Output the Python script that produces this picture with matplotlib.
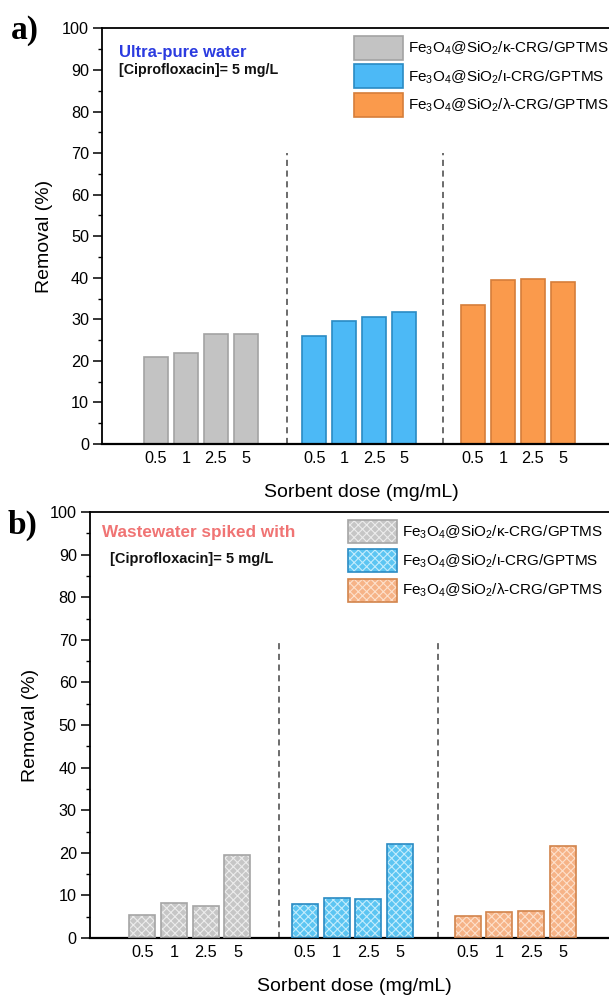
import matplotlib
matplotlib.use("Agg")
import matplotlib.pyplot as plt
from matplotlib.patches import Patch, Rectangle
from matplotlib.legend_handler import HandlerPatch
from matplotlib.ticker import MultipleLocator

plt.rcParams['font.family'] = ['Liberation Sans', 'DejaVu Sans']
plt.rcParams['mathtext.fontset'] = 'custom'
plt.rcParams['mathtext.rm'] = 'Liberation Sans'
plt.rcParams['mathtext.it'] = 'Liberation Sans'
plt.rcParams['hatch.linewidth'] = 0.8

# ---- data ----
doses = ["0.5", "1", "2.5", "5"]
materials = [r"Fe$_3$O$_4$@SiO$_2$/κ-CRG/GPTMS",
             r"Fe$_3$O$_4$@SiO$_2$/ι-CRG/GPTMS",
             r"Fe$_3$O$_4$@SiO$_2$/λ-CRG/GPTMS"]
pure_kappa = [21.0, 22.0, 26.4, 26.4]
pure_iota = [26.0, 29.6, 30.5, 31.7]
pure_lambda = [33.5, 39.4, 39.8, 39.0]
waste_kappa = [5.5, 8.1, 7.6, 19.4]
waste_iota = [7.9, 9.4, 9.2, 22.1]
waste_lambda = [5.1, 6.2, 6.3, 21.6]

# ---- styles ----
solid_fill = ["#c3c3c3", "#4cb9f6", "#fa9a4c"]
solid_edge = ["#a3a3a3", "#2a8bc4", "#d67e3a"]
hatch_fill = ["#c6c6c6", "#5cc5f2", "#f6b387"]
hatch_col = ["#ececec", "#c4ecfc", "#fde0cb"]
hatch_edge = ["#a5a5a5", "#2a8bc4", "#d2844c"]

fig = plt.figure(figsize=(6.09, 9.96), dpi=100)
W, H = 609, 996


def add_axes_px(left, top, right, bottom):
    return fig.add_axes([left / W, 1 - bottom / H, (right - left) / W, (bottom - top) / H])


def style_axes(ax, xlim, seps):
    ax.set_xlim(*xlim)
    ax.set_ylim(0, 100)
    ax.yaxis.set_major_locator(MultipleLocator(10))
    ax.yaxis.set_minor_locator(MultipleLocator(5))
    ax.tick_params(axis='y', which='major', direction='out', length=6.5, width=1.1,
                   labelsize=11.7, pad=3)
    ax.tick_params(axis='y', which='minor', direction='out', length=3, width=1.0)
    ax.tick_params(axis='x', length=0, labelsize=11.7, pad=5)
    for s in ax.spines.values():
        s.set_linewidth(1.3)
    ax.spines['bottom'].set_linewidth(1.6)
    for sx in seps:
        ax.plot([sx, sx], [0, 70], ls=(0, (4, 3)), color="#444444", lw=1.1, zorder=1)
    ax.set_ylabel("Removal (%)", fontsize=14)
    ax.set_xlabel("Sorbent dose (mg/mL)", fontsize=14)


class DoubleHandler(HandlerPatch):
    def __init__(self, fill, hcol, edge):
        super().__init__()
        self.fill, self.hcol, self.edge = fill, hcol, edge

    def create_artists(self, legend, orig_handle, xdescent, ydescent, width, height,
                       fontsize, trans):
        r1 = Rectangle((-xdescent, -ydescent), width, height, facecolor=self.fill,
                       edgecolor=self.hcol, linewidth=0, hatch='xxxx', transform=trans)
        r2 = Rectangle((-xdescent, -ydescent), width, height, fill=False,
                       edgecolor=self.edge, linewidth=1.2, transform=trans)
        return [r1, r2]


# ---------- panel a ----------
axa = add_axes_px(102.2, 28.5, 614, 444)
step_gap_a = 5.3
series_a = [pure_kappa, pure_iota, pure_lambda]
ticks_a, labels_a = [], []
for g, vals in enumerate(series_a):
    xs = [g * step_gap_a + i for i in range(len(doses))]
    axa.bar(xs, vals, width=0.8, color=solid_fill[g], edgecolor=solid_edge[g],
            linewidth=1.2, zorder=2)
    ticks_a += xs
    labels_a += doses
axa.set_xticks(ticks_a)
axa.set_xticklabels(labels_a)
style_axes(axa, (-1.80, 15.32), [4.38, 9.61])
axa.yaxis.set_label_coords(-0.097, 0.5)
axa.xaxis.set_label_coords(0.506, -0.097)

axa.text(0.032, 0.943, "Ultra-pure water", transform=axa.transAxes, color="#2b3be0",
         fontsize=12, fontweight='bold', va='center', ha='left')
axa.text(0.032, 0.900, "[Ciprofloxacin]= 5 mg/L", transform=axa.transAxes, color="#111111",
         fontsize=10.3, fontweight='bold', va='center', ha='left')
handles_a = [Patch(facecolor=solid_fill[g], edgecolor=solid_edge[g], linewidth=1.2)
             for g in range(3)]
axa.legend(handles_a, materials, loc='upper left',
           bbox_to_anchor=(0.4925, 0.982),
           frameon=False, fontsize=11, handlelength=3.18, handleheight=2.0,
           labelspacing=0.32, handletextpad=0.35, borderpad=0, borderaxespad=0)
fig.text(11 / W, 1 - 31 / H, "a)", fontsize=24, fontweight='bold',
         family='Liberation Serif', va='center', ha='left')

# ---------- panel b ----------
axb = add_axes_px(90, 512, 614, 938)
step_gap_b = 5.13
series_b = [waste_kappa, waste_iota, waste_lambda]
ticks_b, labels_b = [], []
for g, vals in enumerate(series_b):
    xs = [g * step_gap_b + i for i in range(len(doses))]
    axb.bar(xs, vals, width=0.82, color=hatch_fill[g], edgecolor=hatch_col[g],
            linewidth=0, hatch='xxxx', zorder=2)
    axb.bar(xs, vals, width=0.82, fill=False, edgecolor=hatch_edge[g],
            linewidth=1.2, zorder=3)
    ticks_b += xs
    labels_b += doses
axb.set_xticks(ticks_b)
axb.set_xticklabels(labels_b)
style_axes(axb, (-1.65, 14.88), [4.31, 9.32])
axb.yaxis.set_label_coords(-0.097, 0.5)
axb.xaxis.set_label_coords(0.504, -0.093)

axb.text(0.022, 0.951, "Wastewater spiked with", transform=axb.transAxes, color="#f07474",
         fontsize=12.3, fontweight='bold', va='center', ha='left')
axb.text(0.038, 0.890, "[Ciprofloxacin]= 5 mg/L", transform=axb.transAxes, color="#111111",
         fontsize=10.5, fontweight='bold', va='center', ha='left')

handles_b = [Patch(facecolor=hatch_fill[g]) for g in range(3)]
hmap = {handles_b[g]: DoubleHandler(hatch_fill[g], hatch_col[g], hatch_edge[g]) for g in range(3)}
axb.legend(handles_b, materials, loc='upper left',
           bbox_to_anchor=(0.492, 0.981),
           frameon=False, fontsize=11, handlelength=3.2, handleheight=1.95,
           labelspacing=0.4, handletextpad=0.35, borderpad=0, borderaxespad=0,
           handler_map=hmap)
fig.text(8 / W, 1 - 525 / H, "b)", fontsize=24, fontweight='bold',
         family='Liberation Serif', va='center', ha='left')

fig.savefig("out.png", dpi=100)
